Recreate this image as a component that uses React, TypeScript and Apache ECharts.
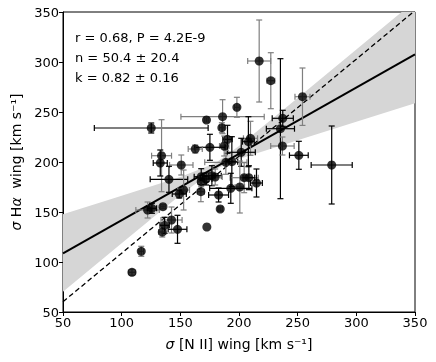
import React, { useEffect, useRef } from "react";
import * as echarts from "echarts";

// Measured points: sigma [N II] wing (x) and sigma H-alpha wing (y), km/s
const xValues = [
  217.2, 227.1, 254.1, 198.2, 172.3, 186.0, 125.2, 237.3, 235.3, 237.0,
  251.0, 279.0, 185.4, 190.2, 187.4, 209.8, 208.0, 201.9, 175.2, 162.7,
  134.0, 132.9, 150.8, 188.8, 193.9, 140.3, 167.8, 167.8, 176.9, 179.7,
  172.0, 204.4, 208.4, 214.9, 200.7, 193.0, 182.6, 167.5, 152.8, 149.1,
  184.0, 122.1, 125.8, 135.2, 142.5, 136.6, 134.6, 147.6, 172.6, 116.7,
  108.8,
];
const yValues = [
  301.0, 281.3, 265.3, 254.7, 242.0, 245.3, 234.0, 243.7, 233.3, 216.0,
  206.7, 197.0, 234.3, 222.7, 216.0, 223.7, 220.3, 209.7, 214.7, 213.0,
  206.3, 199.0, 197.0, 199.7, 200.3, 182.7, 185.3, 180.3, 186.3, 185.0,
  183.0, 184.3, 184.3, 179.0, 175.0, 173.7, 167.0, 170.3, 172.0, 168.0,
  153.0, 152.0, 153.7, 155.3, 142.0, 136.7, 130.0, 132.7, 135.0, 110.7,
  89.7,
];
const xErrors = [
  9.8, 3.4, 6.4, 2, 2, 35.5, 48.5, 9, 12, 10,
  8, 17.5, 2, 4, 4, 6, 5, 12, 13, 6,
  8.5, 6, 10, 18, 5, 16, 6, 3, 8, 6,
  5, 12, 5, 5, 4, 18, 8.5, 3, 5, 6,
  2, 10, 4, 2, 9, 4, 3, 8, 0, 2,
  3,
];
const yErrors = [
  41, 28, 28.7, 10, 2, 17, 5, 8, 70, 9,
  14, 39, 5, 14, 10, 17, 25, 14, 13, 4,
  36, 13, 10, 12, 25, 13, 8, 5, 10, 8,
  6, 15, 12, 14, 26, 15, 7, 10, 20, 4,
  2, 8, 5, 2, 13, 8, 5, 14, 0, 5,
  3,
];
// 1 = darker error bars, 0 = lighter error bars
const barGroup = [
  0, 0, 0, 0, 0, 0, 1, 1, 1, 0,
  1, 1, 0, 1, 0, 0, 1, 1, 1, 0,
  0, 1, 0, 0, 1, 1, 1, 0, 1, 0,
  1, 0, 1, 1, 0, 1, 1, 0, 0, 1,
  0, 0, 1, 0, 0, 1, 0, 1, 0, 0,
  0,
];

// Fit line, offset reference line and confidence band
const fitX = [50, 350];
const fitY = [108.7, 307.7];
const refX = [50, 350];
const refY = [60.3, 351.4];
const bandX = [50, 100, 150, 180, 200, 250, 300, 350];
const bandUpper = [147.7, 166.2, 185.0, 199.0, 216.0, 264.0, 312.6, 361.0];
const bandLower = [70.3, 118.8, 167.0, 193.0, 203.0, 221.7, 240.2, 258.7];

const statsLines = ["r = 0.68, P = 4.2E-9", "n = 50.4 ± 20.4", "k = 0.82 ± 0.16"];
const ticks = [50, 100, 150, 200, 250, 300, 350];

const FONT = "DejaVu Sans";

export default function App() {
  const ref = useRef<HTMLDivElement>(null);
  useEffect(() => {
    if (!ref.current) return;
    const chart = echarts.init(ref.current, null, { renderer: "svg" });
    const points = xValues.map((x, i) => [x, yValues[i]]);
    const errData = xValues.map((x, i) => [x, yValues[i], xErrors[i], yErrors[i], barGroup[i]]);
    const fitData = fitX.map((x, i) => [x, fitY[i]]);
    const refData = refX.map((x, i) => [x, refY[i]]);

    const axisCommon = {
      type: "value",
      min: ticks[0],
      max: ticks[ticks.length - 1],
      interval: 50,
      splitLine: { show: false },
      axisLine: { show: true, onZero: false, lineStyle: { color: "#000", width: 1 } },
      axisTick: { show: true, inside: false, length: 4, lineStyle: { color: "#000", width: 1 } },
      axisLabel: { color: "#000", fontSize: 13, fontFamily: FONT, margin: 4 },
      nameLocation: "middle",
      nameTextStyle: {
        color: "#000",
        fontSize: 14,
        fontFamily: FONT,
        rich: { i: { fontStyle: "italic", fontSize: 14, fontFamily: FONT, color: "#000" } },
      },
    };

    chart.setOption({
      animation: false,
      grid: { left: 63, right: 21, top: 12, bottom: 50, show: true, borderColor: "#000", borderWidth: 1, backgroundColor: "transparent" },
      xAxis: { ...axisCommon, name: "{i|σ} [N II] wing [km s⁻¹]", nameGap: 25 },
      yAxis: { ...axisCommon, name: "{i|σ} H{i|α}  wing [km s⁻¹]", nameGap: 39, nameRotate: 90 },
      graphic: statsLines.map((t, i) => ({
        type: "text",
        x: 75,
        y: 37 + i * 20,
        style: { text: t, fontSize: 13, fontFamily: FONT, fill: "#000", verticalAlign: "middle" },
      })),
      series: [
        {
          type: "custom",
          clip: true,
          z: 1,
          data: [[bandX[0], bandLower[0]]],
          renderItem: (_params: any, api: any) => {
            const pts: number[][] = [];
            for (let i = 0; i < bandX.length; i++) pts.push(api.coord([bandX[i], bandUpper[i]]));
            for (let i = bandX.length - 1; i >= 0; i--) pts.push(api.coord([bandX[i], bandLower[i]]));
            return { type: "polygon", shape: { points: pts }, style: { fill: "#d6d6d6", stroke: "none" } };
          },
        },
        {
          type: "line",
          z: 2,
          data: refData,
          symbol: "none",
          lineStyle: { color: "#000", width: 1.3, type: [5, 3] },
        },
        {
          type: "line",
          z: 3,
          data: fitData,
          symbol: "none",
          lineStyle: { color: "#000", width: 2 },
        },
        {
          type: "custom",
          z: 4,
          data: errData,
          renderItem: (_params: any, api: any) => {
            const x = api.value(0), y = api.value(1), xe = api.value(2), ye = api.value(3), g = api.value(4);
            const stroke = g ? "#000" : "#7f7f7f";
            const style = { stroke, lineWidth: 1.2 };
            const cap = 3;
            const children: any[] = [];
            if (xe > 0) {
              const l = api.coord([x - xe, y]);
              const r = api.coord([x + xe, y]);
              children.push({ type: "line", shape: { x1: l[0], y1: l[1], x2: r[0], y2: r[1] }, style });
              children.push({ type: "line", shape: { x1: l[0], y1: l[1] - cap, x2: l[0], y2: l[1] + cap }, style });
              children.push({ type: "line", shape: { x1: r[0], y1: r[1] - cap, x2: r[0], y2: r[1] + cap }, style });
            }
            if (ye > 0) {
              const t = api.coord([x, y + ye]);
              const b = api.coord([x, y - ye]);
              children.push({ type: "line", shape: { x1: t[0], y1: t[1], x2: b[0], y2: b[1] }, style });
              children.push({ type: "line", shape: { x1: t[0] - cap, y1: t[1], x2: t[0] + cap, y2: t[1] }, style });
              children.push({ type: "line", shape: { x1: b[0] - cap, y1: b[1], x2: b[0] + cap, y2: b[1] }, style });
            }
            return { type: "group", children };
          },
        },
        {
          type: "scatter",
          z: 5,
          data: points,
          symbol: "circle",
          symbolSize: 9,
          itemStyle: { color: "#000" },
        },
      ],
    });
    return () => chart.dispose();
  }, []);
  return <div ref={ref} style={{ position: "fixed", left: 0, top: 0, width: 436, height: 362 }} />;
}
